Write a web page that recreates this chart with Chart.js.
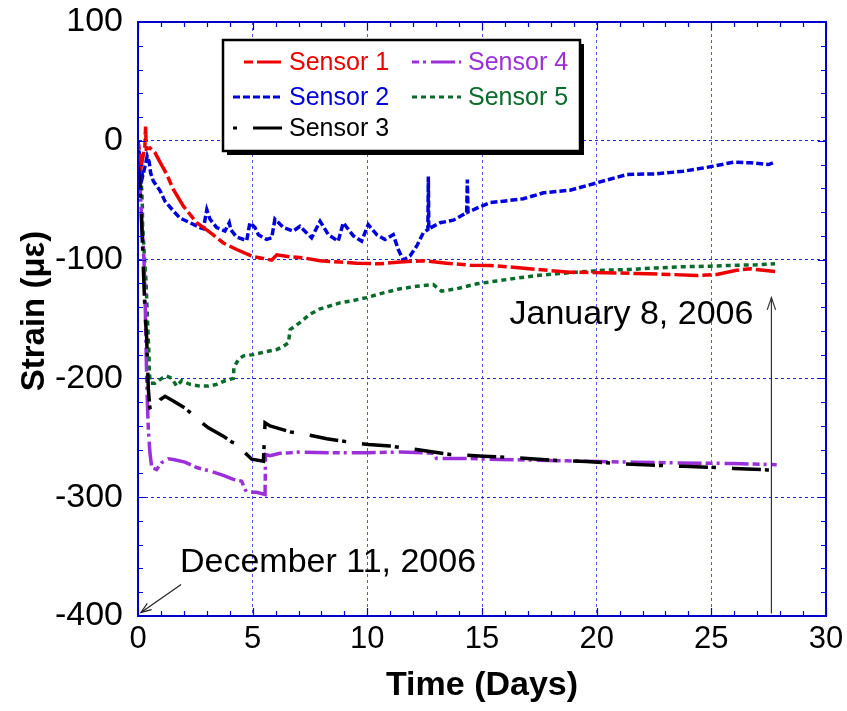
<!DOCTYPE html>
<html><head><meta charset="utf-8">
<script src="https://cdn.jsdelivr.net/npm/chart.js@4.4.0/dist/chart.umd.min.js"></script>
<style>html,body{margin:0;padding:0;background:#fff;}#wrap{width:847px;height:711px;}</style>
</head><body><div id="wrap"><canvas id="c" width="847" height="711"></canvas></div>
<script>
// ---- data (days, microstrain) ----
const s1Days   = [0,0.15,0.3,0.33,0.36,0.52,0.74,0.96,1.25,1.54,1.98,2.56,3.14,3.72,4.3,5.03,5.47,5.83,6.05,6.63,7.21,7.94,8.8,9.54,10.55,11.43,12.44,13.46,14.48,15.35,16.37,17.39,18.84,20.29,21.75,23.2,24.36,25.24,26.1,26.7,27.27,27.78];
const s1Strain = [0,-20,-5,12,-7,-6,-10,-18,-28,-41,-55,-69,-77,-86,-91.5,-97.6,-99,-100.5,-96,-97.6,-98.5,-101,-102,-103,-103.5,-102,-101,-103,-104.7,-105,-106.4,-108.3,-110.6,-111,-111.7,-112.5,-113.4,-112.5,-109,-107.7,-109,-110];

const s2Days   = [0,0.1,0.2,0.3,0.4,0.49,0.55,0.67,0.96,1.18,1.54,1.83,2.27,2.7,2.85,3.0,3.14,3.43,3.79,3.98,4.05,4.3,4.74,4.88,5.1,5.25,5.61,5.83,5.97,6.34,6.77,7.06,7.57,7.94,8.3,8.73,8.95,9.39,9.75,10.04,10.41,10.77,11.13,11.35,11.57,11.86,12.15,12.44,12.64,12.66,12.68,13.17,13.75,14.33,14.36,14.39,14.91,15.35,15.93,16.8,17.68,18.84,20.0,21.31,22.62,23.78,24.95,25.96,26.7,27.49,27.78];
const s2Strain = [0,-20,-30,-22,-13,-18,-27,-34,-42,-51,-59,-65,-69,-73,-74,-58,-66,-73,-76,-69,-75,-81,-84,-69,-73,-79,-83,-81.7,-66,-73,-76,-72,-81.7,-67.7,-79,-84.5,-69,-80,-84.5,-70.5,-79,-83,-79,-91.5,-100.5,-97,-88.7,-77.5,-74.7,-30,-74,-69,-66.8,-60.6,-32.6,-60,-55.6,-52,-50.8,-48.8,-43.8,-41.6,-35.4,-28.4,-27.8,-25.6,-21.9,-18,-18.5,-20,-18];

const s3Days   = [0,0.1,0.2,0.3,0.38,0.45,0.52,0.6,0.67,0.96,1.18,1.54,2.05,2.7,3.07,3.72,4.08,4.52,4.67,4.96,5.47,5.54,5.76,6.05,6.63,7.5,8.23,9.24,10.04,10.99,12.15,13.6,15.06,16.52,17.97,19.57,20.88,22.33,23.78,25.24,25.96,27.42,27.6];
const s3Strain = [0,-40,-90,-142,-167,-209,-225,-227.6,-226,-218,-215,-219,-225,-236,-241.6,-248.6,-253.4,-257,-262.6,-268,-269.7,-237.4,-240,-241.6,-245,-247.8,-250.8,-253.7,-255.6,-257,-259.8,-264,-265.5,-266.8,-268.8,-270,-271.6,-273,-274,-275,-275.8,-277,-277];

const s4Days   = [0,0.13,0.26,0.3,0.38,0.4,0.45,0.52,0.6,0.81,1.03,1.32,1.54,2.05,2.56,3.14,3.72,4.16,4.52,4.67,4.74,5.17,5.54,5.56,5.76,6.19,6.63,7.06,8.52,9.97,11.43,12.88,13.02,14.33,15.79,17.24,18.7,20.15,21.6,23.06,24.52,25.96,27.85];
const s4Strain = [0,-55,-100,-125,-201,-215,-243,-262.6,-275,-276.7,-271,-267.7,-268.3,-270.5,-275,-278,-281.7,-285,-286.5,-293.5,-295.8,-295.8,-297.7,-264,-265,-263,-262.6,-262,-262.6,-262.6,-262,-263,-267.5,-267.4,-268.3,-268.8,-269.4,-270,-270.5,-271,-271.4,-271.6,-272.7];

const s5Days   = [0,0.02,0.09,0.13,0.16,0.19,0.2,0.23,0.26,0.35,0.38,0.45,0.48,0.49,0.55,0.74,1.03,1.25,1.47,1.69,1.9,2.27,2.7,3.07,3.43,3.79,4.16,4.18,4.38,4.6,5.03,5.47,6.05,6.34,6.56,6.63,7.06,7.5,7.94,8.37,8.8,9.24,9.97,10.7,11.43,12.15,12.88,13.24,13.89,14.77,15.64,16.37,17.39,18.26,19.13,20.29,21.46,22.62,23.78,24.95,26.1,26.97,27.78];
const s5Strain = [0,-9,-23,-33,-41,-55,-72,-80,-91.5,-118,-134,-167,-181,-195,-204,-204,-200,-198,-200,-206.5,-202,-205,-206.5,-206.5,-205,-202,-200,-191,-184,-181,-180,-178,-175.7,-173,-170,-159,-153,-146,-141.4,-139,-136.4,-135,-132,-128,-124.6,-122.4,-121,-126.6,-124.6,-120.4,-118,-116,-113.4,-112,-110.6,-109,-108.3,-107,-106,-105.5,-104.7,-104.4,-103.5];

const seriesNames = ['Sensor 1','Sensor 2','Sensor 3','Sensor 4','Sensor 5'];
const xTickValues = [0,5,10,15,20,25,30];
const yTickValues = [-400,-300,-200,-100,0,100];
const annoDec = 'December 11, 2006';
const annoJan = 'January 8, 2006';

// ---- styles ----
const colors = ['#EE0000','#0000DD','#000000','#9B30D9','#0B6B2A'];
const dashes = [[9,4,24,4],[7,3],[4,16,29,4],[7,4,3,5,24,4],[5,4]];
const FONT = '"Liberation Sans", Arial, sans-serif';

function pts(d, s){ return d.map((v,i)=>({x:v,y:s[i]})); }
const allDays = [s1Days,s2Days,s3Days,s4Days,s5Days];
const allStrain = [s1Strain,s2Strain,s3Strain,s4Strain,s5Strain];

const datasets = seriesNames.map((n,i)=>({
  label:n, data:pts(allDays[i],allStrain[i]), borderColor:colors[i], backgroundColor:colors[i],
  borderWidth:3.5, borderDash:dashes[i], pointRadius:0, tension:0, fill:false
}));

function arrowHead(ctx, x1,y1,x2,y2, len, ang){
  const a = Math.atan2(y2-y1, x2-x1);
  ctx.beginPath();
  ctx.moveTo(x2 - len*Math.cos(a-ang), y2 - len*Math.sin(a-ang));
  ctx.lineTo(x2,y2);
  ctx.lineTo(x2 - len*Math.cos(a+ang), y2 - len*Math.sin(a+ang));
  ctx.stroke();
}

const overlay = {
  id:'overlay',
  afterDatasetsDraw(chart){
    const {ctx, chartArea:a, scales:{x,y}} = chart;
    ctx.save();
    ctx.strokeStyle = '#0000CC'; ctx.lineWidth = 1.2; ctx.setLineDash([]);
    for (let d=0; d<=30; d+=1){
      const px = Math.round(x.getPixelForValue(d))+0.5;
      const len = (d%5===0)?8:5;
      ctx.beginPath(); ctx.moveTo(px,a.bottom); ctx.lineTo(px,a.bottom-len);
      ctx.moveTo(px,a.top); ctx.lineTo(px,a.top+len); ctx.stroke();
    }
    for (let v=-400; v<=100; v+=20){
      const py = Math.round(y.getPixelForValue(v))+0.5;
      const len = (v%100===0)?8:5;
      ctx.beginPath(); ctx.moveTo(a.left,py); ctx.lineTo(a.left+len,py);
      ctx.moveTo(a.right,py); ctx.lineTo(a.right-len,py); ctx.stroke();
    }
    ctx.lineWidth = 2; ctx.strokeStyle = '#0000CC';
    ctx.strokeRect(a.left, a.top, a.right-a.left, a.bottom-a.top);

    // legend box
    const bx=223, by=40, bw=357, bh=111;
    ctx.fillStyle='#000'; ctx.fillRect(bx+4,by+4,bw,bh);
    ctx.fillStyle='#fff'; ctx.fillRect(bx,by,bw,bh);
    ctx.strokeStyle='#000'; ctx.lineWidth=2.5; ctx.strokeRect(bx,by,bw,bh);
    const slots = [[233,62],[233,97],[233,128],[412,62],[412,97]];
    const sampleStart = [244,233,233,412,412];
    ctx.font = '25px '+FONT; ctx.textBaseline='middle'; ctx.textAlign='left';
    chart.data.datasets.forEach((ds,i)=>{
      const [sx,sy] = slots[i];
      const endX = sx+49;
      ctx.strokeStyle = ds.borderColor; ctx.lineWidth=3; ctx.setLineDash(ds.borderDash);
      ctx.beginPath(); ctx.moveTo(sampleStart[i],sy); ctx.lineTo(endX,sy); ctx.stroke();
      ctx.setLineDash([]);
      ctx.fillStyle = ds.borderColor;
      ctx.fillText(ds.label, endX+7, sy+1);
    });

    // annotations
    ctx.fillStyle='#000'; ctx.font='34px '+FONT; ctx.textBaseline='middle'; ctx.textAlign='left';
    ctx.fillText(annoDec, x.getPixelForValue(1.83), y.getPixelForValue(-355));
    ctx.fillText(annoJan, x.getPixelForValue(16.2), y.getPixelForValue(-146));
    ctx.strokeStyle='#222'; ctx.lineWidth=1.2;
    let x1=x.getPixelForValue(1.88), y1=y.getPixelForValue(-373.5), x2=x.getPixelForValue(0.13), y2=y.getPixelForValue(-397);
    ctx.beginPath(); ctx.moveTo(x1,y1); ctx.lineTo(x2,y2); ctx.stroke();
    arrowHead(ctx,x1,y1,x2,y2,11,0.35);
    x1=x.getPixelForValue(27.62); y1=y.getPixelForValue(-398); x2=x1; y2=y.getPixelForValue(-132);
    ctx.strokeStyle='#333';
    ctx.beginPath(); ctx.moveTo(x1,y1); ctx.lineTo(x2,y2); ctx.stroke();
    arrowHead(ctx,x1,y1,x2,y2,13,0.33);

    // axis titles
    ctx.fillStyle='#000'; ctx.font='bold 34px '+FONT; ctx.textAlign='center'; ctx.textBaseline='middle';
    ctx.fillText('Time (Days)', (a.left+a.right)/2, 686);
    ctx.save(); ctx.translate(35, 311); ctx.rotate(-Math.PI/2);
    ctx.font='bold 33px '+FONT;
    ctx.fillText('Strain (\u03bc\u03b5)', 0, 0); ctx.restore();
    ctx.restore();
  }
};

function fixY(s){ s.width = 138; s.paddingTop=0; s.paddingBottom=0; s.paddingLeft=0; s.paddingRight=0; }
function fixX(s){ s.height = 95; s.paddingTop=0; s.paddingBottom=0; s.paddingLeft=0; s.paddingRight=0; }

new Chart(document.getElementById('c'), {
  type:'line',
  data:{datasets},
  options:{
    responsive:false, devicePixelRatio:1, animation:false,
    layout:{padding:{left:0,top:22,right:21,bottom:0}},
    plugins:{legend:{display:false}, tooltip:{enabled:false}},
    scales:{
      x:{type:'linear', min:0, max:30, afterFit:fixX,
        afterBuildTicks:(s)=>{ s.ticks = xTickValues.map(v=>({value:v})); },
        ticks:{color:'#000', font:{family:FONT, size:31}, padding:5, maxRotation:0, autoSkip:false},
        grid:{color:'#5555EE', lineWidth:1, drawTicks:false},
        border:{display:true, color:'#0000CC', width:2, dash:[3,3]}},
      y:{type:'linear', min:-400, max:100, afterFit:fixY,
        afterBuildTicks:(s)=>{ s.ticks = yTickValues.map(v=>({value:v})); },
        ticks:{color:'#000', font:{family:FONT, size:34}, padding:15, autoSkip:false},
        grid:{color:'#2222DD', lineWidth:1, drawTicks:false},
        border:{display:true, color:'#0000CC', width:2, dash:[3,3]}}
    }
  },
  plugins:[overlay]
});
</script></body></html>
